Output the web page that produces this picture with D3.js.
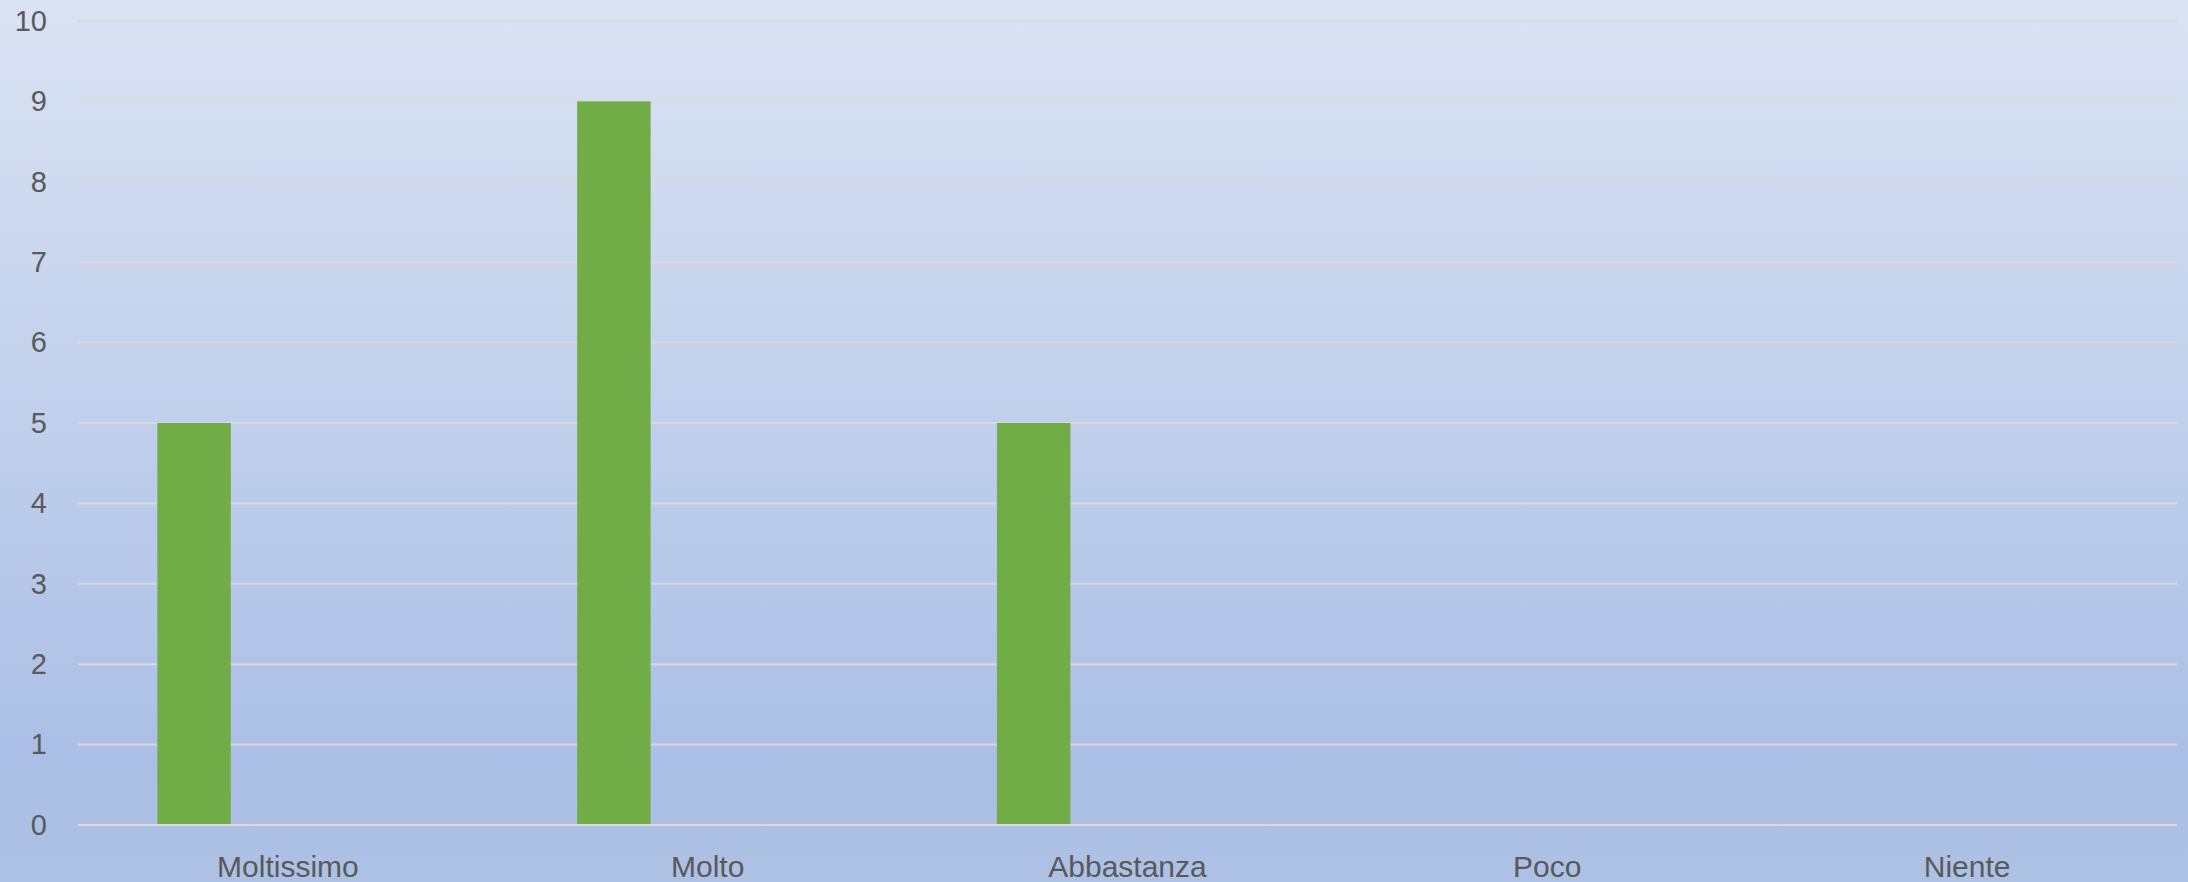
<!DOCTYPE html>
<html>
<head>
<meta charset="utf-8">
<script src="https://cdn.jsdelivr.net/npm/d3@7"></script>
<style>
  html, body { margin: 0; padding: 0; overflow: hidden; }
  svg { display: block; }
</style>
</head>
<body>
<div id="graphicContainer"></div>
<script>
// chart values
var categories = ["Moltissimo", "Molto", "Abbastanza", "Poco", "Niente"];
var values = [5, 9, 5, 0, 0];
var yTicks = [0, 1, 2, 3, 4, 5, 6, 7, 8, 9, 10];

var target = "#graphicContainer";

function makeChart() {

    var width = 2188, height = 882;
    var margin = {top: 21, right: 11, bottom: 57, left: 78};

    d3.select(target + " svg").remove();

    var svg = d3.select(target).append("svg")
        .attr("width", width)
        .attr("height", height);

    // background gradient
    var grad = svg.append("defs").append("linearGradient")
        .attr("id", "bg")
        .attr("x1", 0).attr("y1", 0).attr("x2", 0).attr("y2", 1);
    grad.append("stop").attr("offset", "0%").attr("stop-color", "#dae3f3");
    grad.append("stop").attr("offset", "86%").attr("stop-color", "#abbfe6");
    grad.append("stop").attr("offset", "100%").attr("stop-color", "#adc1e4");

    svg.append("rect")
        .attr("width", width)
        .attr("height", height)
        .attr("fill", "url(#bg)");

    var x = d3.scaleBand()
        .domain(categories)
        .range([margin.left, width - margin.right])
        .padding(0);

    var y = d3.scaleLinear()
        .domain([0, 10])
        .range([height - margin.bottom, margin.top]);

    // gridlines
    svg.append("g")
        .selectAll("line")
        .data(yTicks)
        .enter()
        .append("line")
            .attr("x1", margin.left)
            .attr("x2", width - margin.right)
            .attr("y1", d => y(d))
            .attr("y2", d => y(d))
            .attr("stroke", "#d9d9d9")
            .attr("stroke-width", 2);

    // y axis labels
    var yAxis = svg.append("g")
        .attr("transform", "translate(" + (margin.left - 31) + ",0)")
        .call(d3.axisLeft(y).tickValues(yTicks).tickSize(0).tickPadding(0));
    yAxis.select(".domain").remove();
    yAxis.selectAll("text")
        .attr("fill", "#595959")
        .style("font-family", "'Liberation Sans', Arial, sans-serif")
        .style("font-size", "29px");

    // bars
    var bw = x.bandwidth();
    svg.append("g")
        .selectAll("rect")
        .data(categories.map((c, i) => ({cat: c, value: values[i]})))
        .enter()
        .append("rect")
            .attr("x", d => x(d.cat) + bw * 0.189)
            .attr("width", bw * 0.175)
            .attr("y", d => y(d.value))
            .attr("height", d => Math.max(0, y(0) - 1 - y(d.value)))
            .attr("fill", "#70ad47");

    // x axis labels
    var xAxis = svg.append("g")
        .attr("transform", "translate(0," + (height - 5) + ")")
        .call(d3.axisBottom(x).tickSize(0).tickPadding(0));
    xAxis.select(".domain").remove();
    xAxis.selectAll("text")
        .attr("dy", 0)
        .attr("y", 0)
        .attr("fill", "#595959")
        .style("font-family", "'Liberation Sans', Arial, sans-serif")
        .style("font-size", "30px");
}

makeChart();
</script>
</body>
</html>
